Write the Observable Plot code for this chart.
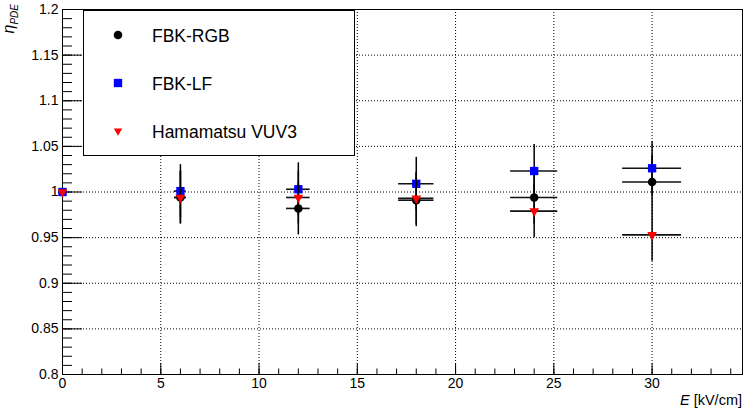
<!DOCTYPE html>
<html>
<head>
<meta charset="utf-8">
<script src="https://cdn.jsdelivr.net/npm/d3@7"></script>
<script src="https://cdn.jsdelivr.net/npm/@observablehq/plot@0.6"></script>
<style>
  html, body { margin: 0; padding: 0; background: #fff; }
  #chart { width: 747px; height: 411px; }
</style>
</head>
<body>
<div id="chart"></div>
<script>
// ---- data ----
const fields = [0, 6, 12, 18, 24, 30];                 // E [kV/cm]
const fieldErrors = [0, 0.3, 0.6, 0.9, 1.2, 1.5];      // horizontal error
const seriesNames = ["FBK-RGB", "FBK-LF", "Hamamatsu VUV3"];
const fbkRgb = [1.000, 0.994, 0.982, 0.991, 0.994, 1.011];
const fbkLf  = [1.000, 1.001, 1.003, 1.009, 1.023, 1.026];
const vuv3   = [1.000, 0.994, 0.994, 0.993, 0.979, 0.953];
const pdeErrors = [0, 0.029, 0.029, 0.029, 0.029, 0.029];

// ---- ticks ----
const xMajorTicks = [0, 5, 10, 15, 20, 25, 30];
const xMinorTicks = d3.range(0, 35, 1);
const yMajorTicks = [0.8, 0.85, 0.9, 0.95, 1.0, 1.05, 1.1, 1.15, 1.2];
const yMinorTicks = d3.range(80, 121, 1).map(v => v / 100);

const xDomain = [0, 34.6];
const yDomain = [0.8, 1.2];

const W = 747, H = 411, ML = 62, MR = 5, MT = 9, MB = 37;
const innerW = W - ML - MR, innerH = H - MT - MB;

const seriesValues = [fbkRgb, fbkLf, vuv3];
const seriesStyles = [
  {color: "#000000", symbol: "circle", r: 4.3, rotate: 0},
  {color: "#0000ff", symbol: "square", r: 4.7, rotate: 0},
  {color: "#ff0000", symbol: "triangle", r: 3.6, rotate: 180}
];

const series = seriesNames.map((name, s) => ({
  name,
  style: seriesStyles[s],
  rows: fields.map((x, i) => ({x, xe: fieldErrors[i], y: seriesValues[s][i], ye: pdeErrors[i]}))
}));

const font = "'Liberation Sans', Arial, Helvetica, sans-serif";

function legendMark(index, scales, values, dimensions) {
  const g = d3.create("svg:g").attr("font-family", font).attr("text-anchor", "start");
  const x0 = dimensions.marginLeft + 21, y0 = dimensions.marginTop + 1;
  const w = 271, h = 145;
  g.append("rect").attr("x", x0 + 0.5).attr("y", y0 + 0.5).attr("width", w).attr("height", h)
    .attr("fill", "white").attr("stroke", "black").attr("stroke-width", 1);
  series.forEach((s, i) => {
    const cy = y0 + 25 + i * 48;
    const typ = {circle: d3.symbolCircle, square: d3.symbolSquare, triangle: d3.symbolTriangle}[s.style.symbol];
    const rr = s.style.symbol === "triangle" ? 3.1 : s.style.r;
    g.append("path")
      .attr("d", d3.symbol(typ, Math.PI * rr * rr)())
      .attr("transform", `translate(${x0 + 35},${cy}) rotate(${s.style.rotate})`)
      .attr("fill", s.style.color);
    g.append("text").attr("x", x0 + 69).attr("y", cy + 7.3)
      .attr("text-anchor", "start")
      .attr("font-size", 17.5).attr("fill", "black").text(s.name);
  });
  return g.node();
}

function titlesMark(index, scales, values, dimensions) {
  const g = d3.create("svg:g").attr("font-family", font).attr("fill", "black");
  // y title
  const yt = g.append("text")
    .attr("transform", `translate(13.5,4) rotate(-90)`)
    .attr("text-anchor", "end").attr("font-size", 16);
  yt.append("tspan").attr("font-style", "italic").text("η");
  yt.append("tspan").attr("font-style", "italic").attr("font-size", 10).attr("dy", 4).text("PDE");
  // x title
  const xt = g.append("text")
    .attr("x", dimensions.width - dimensions.marginRight)
    .attr("y", dimensions.height - 6)
    .attr("text-anchor", "end").attr("font-size", 14.5);
  xt.append("tspan").attr("font-style", "italic").text("E");
  xt.append("tspan").text(" [kV/cm]");
  return g.node();
}

const fmtY = d => String(+d.toFixed(2));

const marks = [
  Plot.gridX({ticks: xMajorTicks.filter(v => v > 0), stroke: "black", strokeOpacity: 1, strokeDasharray: "1,2"}),
  Plot.gridY({ticks: yMajorTicks.filter(v => v > 0.8 && v < 1.2), stroke: "black", strokeOpacity: 1, strokeDasharray: "1,2"}),
  // inward ticks (ROOT style)
  Plot.tickY(yMinorTicks, {y: d => d, stroke: "black", insetRight: innerW - 10}),
  Plot.tickY(yMajorTicks, {y: d => d, stroke: "black", insetRight: innerW - 20}),
  Plot.tickX(xMinorTicks, {x: d => d, stroke: "black", insetTop: innerH - 5.5}),
  Plot.tickX(xMajorTicks, {x: d => d, stroke: "black", insetTop: innerH - 11}),
  // tick labels
  Plot.axisY({ticks: yMajorTicks, tickSize: 0, tickPadding: 4, tickFormat: fmtY, fontSize: 14, fill: "black", label: null}),
  Plot.axisX({ticks: xMajorTicks, tickSize: 0, tickPadding: 4, tickFormat: d => String(d), fontSize: 14, fill: "black", label: null}),
  Plot.frame({stroke: "black", strokeWidth: 1}),
  legendMark
];

for (const s of series) {
  marks.push(
    Plot.ruleY(s.rows.filter(d => d.xe > 0), {y: "y", x1: d => d.x - d.xe, x2: d => d.x + d.xe, stroke: "#111", strokeWidth: 1.6}),
    Plot.ruleX(s.rows.filter(d => d.ye > 0), {x: "x", y1: d => d.y - d.ye, y2: d => d.y + d.ye, stroke: "black", strokeWidth: 1.5}),
    Plot.dot(s.rows, {x: "x", y: "y", symbol: s.style.symbol, r: s.style.r, rotate: s.style.rotate, fill: s.style.color, stroke: "none"})
  );
}
marks.push(titlesMark);

const chart = Plot.plot({
  width: W,
  height: H,
  marginLeft: ML,
  marginRight: MR,
  marginTop: MT,
  marginBottom: MB,
  style: {fontFamily: font, background: "white", color: "black", overflow: "visible"},
  x: {domain: xDomain},
  y: {domain: yDomain},
  marks
});

document.getElementById("chart").appendChild(chart);
</script>
</body>
</html>
